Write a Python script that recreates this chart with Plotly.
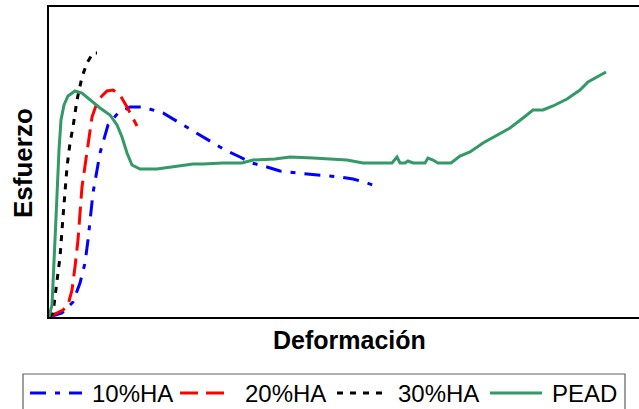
import plotly.graph_objects as go

# Stress-strain curves (arbitrary units, no tick labels shown)
strain_10 = [0, 0.13, 0.24, 0.31, 0.36, 0.39, 0.44, 0.51, 0.59, 0.69, 0.81, 0.94, 1.14, 1.38,
             1.51, 1.64, 1.76, 1.91, 2.03, 2.18, 2.31, 2.48, 2.61, 2.78, 2.91, 3.04, 3.18, 3.29]
stress_10 = [0, 0.4, 1.5, 3.4, 5.4, 7.7, 12.4, 16.4, 19.2, 20.4, 21.0, 21.0, 20.4, 19.0,
             18.2, 17.4, 16.7, 16.0, 15.4, 15.0, 14.6, 14.4, 14.3, 14.1, 14.0, 13.8, 13.4, 13.0]

strain_20 = [0, 0.08, 0.14, 0.19, 0.23, 0.26, 0.29, 0.33, 0.38, 0.43, 0.49, 0.58, 0.64, 0.71, 0.78, 0.88]
stress_20 = [0, 0.4, 0.7, 1.2, 2.7, 5.0, 7.7, 13.0, 16.7, 20.0, 21.7, 22.6, 22.7, 22.2, 21.0, 19.1]

strain_30 = [0, 0.04, 0.06, 0.11, 0.14, 0.18, 0.21, 0.24, 0.28, 0.33, 0.38, 0.44, 0.48]
stress_30 = [0, 0.4, 2.0, 6.0, 10.0, 15.0, 17.4, 19.0, 21.7, 24.0, 25.4, 26.4, 26.4]

strain_pead = [0, 0.03, 0.06, 0.08, 0.10, 0.12, 0.15, 0.19, 0.26, 0.33, 0.41, 0.51, 0.61, 0.68,
               0.73, 0.78, 0.83, 0.91, 1.08, 1.24, 1.44, 1.54, 1.74, 1.93, 2.04, 2.26, 2.41,
               2.64, 2.84, 2.98, 3.14, 3.43, 3.48, 3.51, 3.56, 3.59, 3.64, 3.76, 3.79, 3.84,
               3.89, 4.02, 4.11, 4.21, 4.34, 4.48, 4.61, 4.74, 4.84, 4.94, 5.04, 5.18, 5.31,
               5.39, 5.51, 5.57]
stress_pead = [0, 1.2, 7.7, 12.7, 16.7, 19.7, 21.2, 22.1, 22.6, 22.4, 21.7, 20.9, 20.2, 19.2,
               18.0, 16.4, 15.2, 14.8, 14.8, 15.0, 15.3, 15.3, 15.4, 15.4, 15.7, 15.8, 16.0,
               15.9, 15.8, 15.7, 15.4, 15.4, 16.0, 15.4, 15.4, 15.6, 15.4, 15.4, 15.9, 15.7,
               15.4, 15.4, 16.1, 16.5, 17.4, 18.2, 18.9, 19.9, 20.7, 20.7, 21.1, 21.8, 22.7,
               23.5, 24.2, 24.5]

series_names = ["10%HA", "20%HA", "30%HA", "PEAD"]
series_colors = ["#0000FF", "#FF0000", "#000000", "#339966"]
series_dashes = ["16px,9px,5px,9px", "18px,8px", "6px,7px", "solid"]

W, H = 639, 409
ML, MR, MT, MB = 49, 0, 7, 92
PW, PH = W - ML - MR, H - MT - MB
FONT = "Liberation Sans, Arial, sans-serif"


def px(x):
    return (x - ML) / PW


def py(y):
    return (H - MB - y) / PH


fig = go.Figure()
data = [(strain_10, stress_10), (strain_20, stress_20), (strain_30, stress_30), (strain_pead, stress_pead)]
for (xs, ys), name, color, dash in zip(data, series_names, series_colors, series_dashes):
    fig.add_trace(go.Scatter(x=xs, y=ys, mode="lines", name=name,
                             line=dict(color=color, width=3, dash=dash)))

shapes = []
annotations = [
    dict(text="<b>Deformación</b>", x=px(349), y=py(340), xref="paper", yref="paper",
         showarrow=False, xanchor="center", yanchor="middle",
         font=dict(family=FONT, size=25, color="black")),
    dict(text="<b>Esfuerzo</b>", x=px(23), y=py(163), xref="paper", yref="paper",
         showarrow=False, xanchor="center", yanchor="middle", textangle=-90,
         font=dict(family=FONT, size=26, color="black")),
]

# Legend box and entries along the bottom
shapes.append(dict(type="rect", xref="paper", yref="paper", x0=px(23), x1=px(625),
                   y0=py(374), y1=py(420), line=dict(color="#606060", width=1.2)))
legend_pos = [(30, 82, 90), (180, 231, 243), (337, 389, 396), (490, 542, 550)]
for (x0, x1, tx), name, color, dash in zip(legend_pos, series_names, series_colors, series_dashes):
    shapes.append(dict(type="line", xref="paper", yref="paper", x0=px(x0), x1=px(x1),
                       y0=py(393), y1=py(393), line=dict(color=color, width=3, dash=dash)))
    annotations.append(dict(text=name, x=px(tx), y=py(393), xref="paper", yref="paper",
                            showarrow=False, xanchor="left", yanchor="middle",
                            font=dict(family=FONT, size=24, color="black")))

fig.update_layout(
    width=W, height=H,
    margin=dict(l=ML, r=MR, t=MT, b=MB),
    paper_bgcolor="white", plot_bgcolor="white",
    showlegend=False,
    shapes=shapes, annotations=annotations,
    xaxis=dict(range=[0, 5.90], showgrid=False, zeroline=False, showticklabels=False,
               ticks="", showline=True, linecolor="black", linewidth=2, mirror=True),
    yaxis=dict(range=[0, 31.0], showgrid=False, zeroline=False, showticklabels=False,
               ticks="", showline=True, linecolor="black", linewidth=2),
)

fig.write_html("out.html")
